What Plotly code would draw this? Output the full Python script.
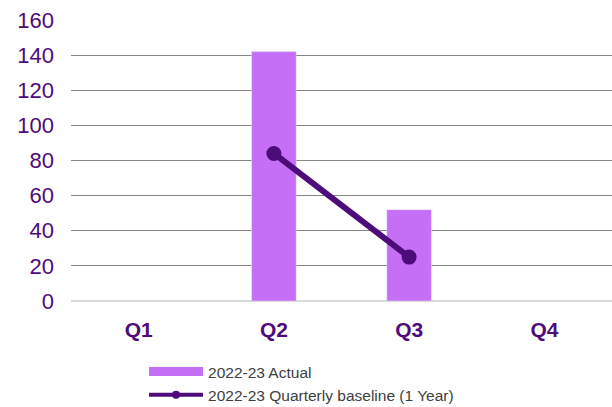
import plotly.graph_objects as go

quarters = ["Q1", "Q2", "Q3", "Q4"]
actual = [None, 142, 52, None]
baseline = [None, 84, 25, None]
y_ticks = [0, 20, 40, 60, 80, 100, 120, 140, 160]

BAR = "#C56FF6"
LINE = "#4E0C7B"
TXT = "#4E0C7B"

fig = go.Figure()
fig.add_trace(go.Bar(x=quarters, y=actual, marker_color=BAR, showlegend=False,
                     name="2022-23 Actual"))
fig.add_trace(go.Scatter(x=quarters, y=baseline, mode="lines+markers",
                         line=dict(color=LINE, width=6), marker=dict(size=15, color=LINE),
                         showlegend=False, name="2022-23 Quarterly baseline (1 Year)"))
# legend entries
fig.add_trace(go.Scatter(x=[None], y=[None], mode="lines", line=dict(color=BAR, width=9),
                         name="2022-23 Actual"))
fig.add_trace(go.Scatter(x=[None], y=[None], mode="lines+markers",
                         line=dict(color=LINE, width=4), marker=dict(size=8, color=LINE),
                         name="2022-23 Quarterly baseline (1 Year)"))

fig.update_layout(
    width=612, height=407,
    margin=dict(l=71, r=0, t=20, b=106, autoexpand=False),
    plot_bgcolor="white", paper_bgcolor="white",
    bargap=0.67,
    font=dict(family="Liberation Sans, Arial", color="#404040"),
    legend=dict(x=0.135, xanchor="left", y=0.128, yref="container", yanchor="top",
                orientation="v",
                itemwidth=54, font=dict(size=15.5, color="#404040"),
                tracegroupgap=0, itemclick=False),
    xaxis=dict(type="category", categoryorder="array", categoryarray=quarters,
               showgrid=False, showline=False, ticks="",
               tickfont=dict(size=21, color=TXT, family="Liberation Sans, Arial", weight="bold"),
               ticklabelstandoff=14),
    yaxis=dict(range=[0, 160], tickvals=y_ticks, showgrid=True, gridcolor="#858585",
               gridwidth=1, zeroline=True, zerolinecolor="#d9d9d9", zerolinewidth=2,
               showline=False, ticks="",
               tickfont=dict(size=22, color=TXT, family="Liberation Sans, Arial"),
               ticklabelstandoff=16),
)
fig.write_html("out.html")
